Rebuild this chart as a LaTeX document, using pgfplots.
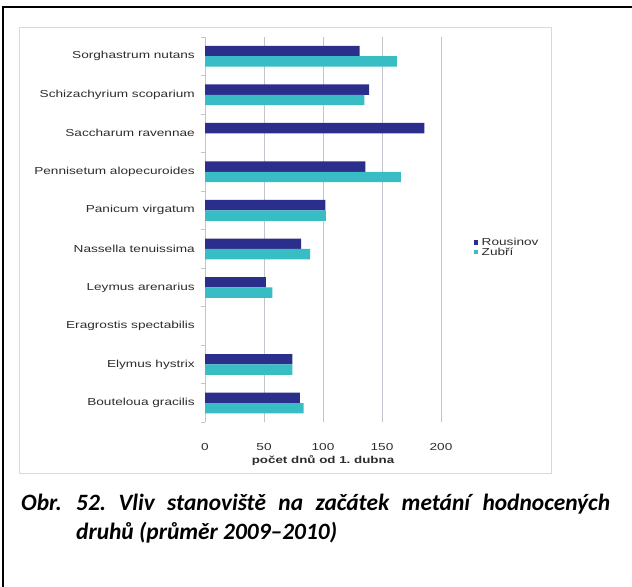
\documentclass[border=0pt]{standalone}
\usepackage{fontspec}
\usepackage{pgfplots}
\pgfplotsset{compat=1.18}
\newfontfamily\chartfont[FakeStretch=1.34]{Liberation Sans}
\newfontfamily\capfont{Carlito}
\definecolor{rous}{RGB}{44,46,140}
\definecolor{zubr}{RGB}{56,189,196}
\definecolor{gridc}{RGB}{195,195,205}
\definecolor{txt}{RGB}{45,45,45}
\begin{document}
\frenchspacing
\begin{tikzpicture}[x=1bp,y=1bp]
\path[use as bounding box] (0,0) rectangle (632,587);
\draw[line width=1.8bp] (3.3,0) -- (3.3,580) -- (632,580);
\draw[line width=1bp, color=black!15] (19.5,559.3) rectangle (551,113.5);
\begin{axis}[
  at={(205bp,164.7bp)}, anchor=south west,
  scale only axis, width=236bp, height=385.3bp,
  xbar, bar width=10.4bp,
  xmin=0, xmax=200, ymin=-0.5, ymax=9.5,
  axis x line*=bottom, axis y line*=left,
  x axis line style={draw=none},
  y axis line style={draw=gridc, line width=0.8bp},
  xmajorgrids, grid style={draw=gridc, line width=0.8bp},
  xtick={0,50,100,150,200},
  xtick style={draw=none},
  ytick={0,...,9},
  yticklabels={Bouteloua gracilis, Elymus hystrix\hspace{3bp}, Eragrostis spectabilis, Leymus arenarius, Nassella tenuissima, Panicum virgatum, Pennisetum alopecuroides, Saccharum ravennae, Schizachyrium scoparium, Sorghastrum nutans},
  minor ytick={-0.5,0.5,...,9.5},
  major tick length=0pt, minor tick length=4bp, tick align=outside,
  major y tick style={draw=none},
  minor y tick style={draw=gridc, line width=0.8bp},
  /pgf/number format/assume math mode=true,
  tick label style={font=\chartfont\fontsize{10.2}{12}\selectfont, text=txt},
  yticklabel style={anchor=east, inner sep=0pt, xshift=-10bp},
  xticklabel style={anchor=north, inner sep=0pt, yshift=-20.5bp},
  xlabel={počet dnů od 1. dubna},
  xlabel style={at={(axis description cs:0.5,0)}, anchor=center, yshift=-38bp, inner sep=0pt, font=\chartfont\bfseries\fontsize{10}{12}\selectfont, text=txt},
  legend style={at={(rel axis cs:1.1386,0.4538)}, anchor=west, draw=none, fill=none,
    inner sep=0pt, outer sep=0pt,
    font=\chartfont\fontsize{10.2}{12}\selectfont, text=txt,
    row sep=2bp,
    /tikz/every odd column/.append style={column sep=3.5bp},
    nodes={inner sep=0.3bp, text height=6.6bp, text depth=0.6bp}},
  legend cell align=left,
  legend image code/.code={\fill[#1] (0bp,-2.1bp) rectangle (4.2bp,2.1bp);},
]
\addplot[fill=rous, draw=none, bar shift=5.2bp] coordinates {
(80.5,0) (74,1) (51.5,3) (81.5,4) (102,5) (136,6) (186,7) (139,8) (131,9)};
\addplot[fill=zubr, draw=none, bar shift=-5.2bp] coordinates {
(83.5,0) (74,1) (57,3) (89,4) (102.5,5) (166,6) (135,8) (162.5,9)};
\legend{Rousinov, Zubří}
\end{axis}
\node[anchor=base west, inner sep=0pt, font=\capfont\bfseries\itshape\fontsize{23.5}{28}\selectfont] at (21,587-511) {\makebox[589bp][s]{\makebox[55bp][l]{Obr.}52. Vliv stanoviště na začátek metání hodnocených}};
\node[anchor=base west, inner sep=0pt, font=\capfont\bfseries\itshape\fontsize{23.5}{28}\selectfont] at (76,587-540) {druhů (průměr 2009–2010)};
\end{tikzpicture}
\end{document}
